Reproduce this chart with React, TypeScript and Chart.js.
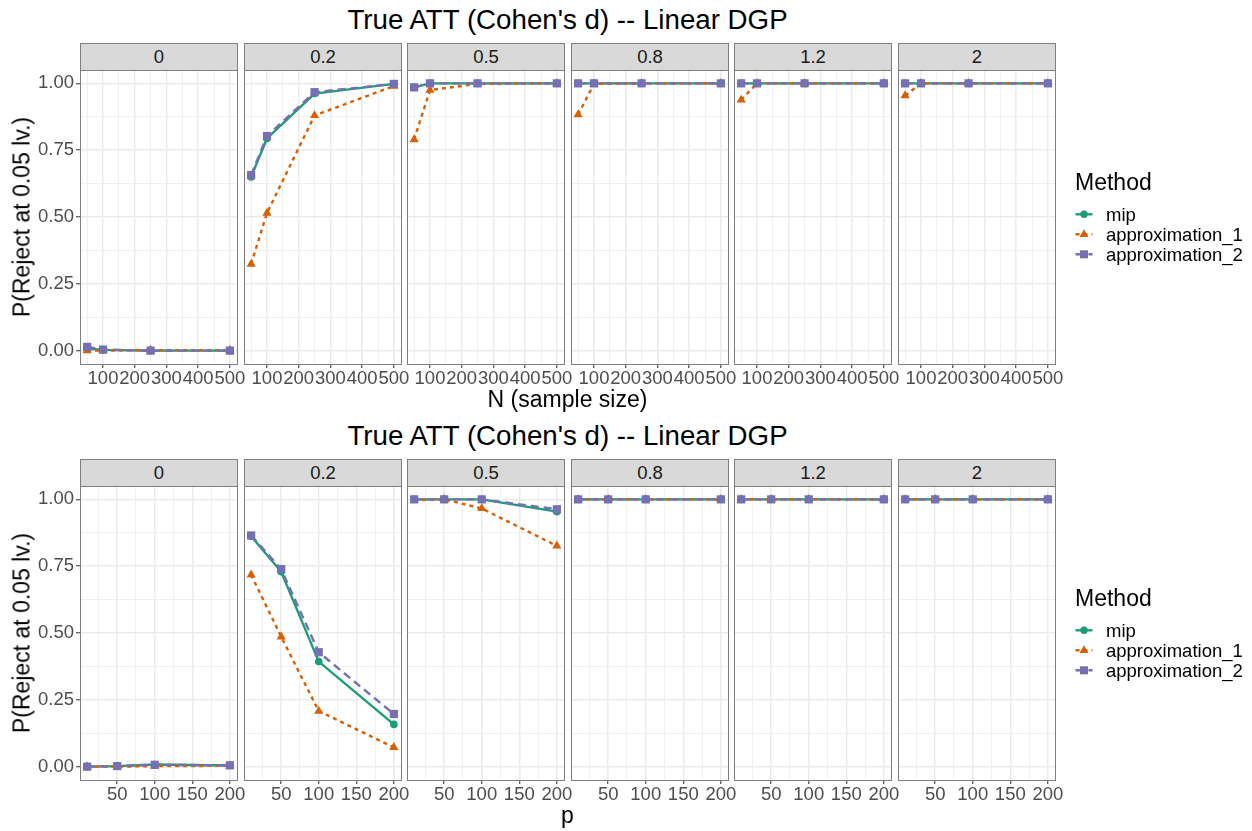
import React, { useEffect, useRef } from 'react';
import { Chart, registerables } from 'chart.js';
Chart.register(...registerables);

const FONT = '"Liberation Sans", Arial, Helvetica, sans-serif';

const facetLabels = ['0', '0.2', '0.5', '0.8', '1.2', '2'];
const methodNames = ['mip', 'approximation_1', 'approximation_2'];
const methodColors = ['#1B9E77', '#D95F02', '#7570B3'];
const chartTitle = "True ATT (Cohen's d) -- Linear DGP";
const yTitle = 'P(Reject at 0.05 lv.)';
const nTitle = 'N (sample size)';
const pTitle = 'p';

const sampleSizes = [50, 100, 250, 500];
const nGridTicks = [50, 100, 150, 200, 250, 300, 350, 400, 450, 500];
const nLabelTicks = [100, 200, 300, 400, 500];

const pValues = [10, 50, 100, 200];
const pGridTicks = [25, 50, 75, 100, 125, 150, 175, 200];
const pLabelTicks = [50, 100, 150, 200];

const yGridTicks = [0, 0.125, 0.25, 0.375, 0.5, 0.625, 0.75, 0.875, 1];
const yLabelTicks = [0, 0.25, 0.5, 0.75, 1];

// Top row (x = N): one inner list per facet, values at sampleSizes
const nMip = [
  [0.008, 0.003, 0, 0],
  [0.65, 0.794, 0.962, 0.998],
  [0.985, 1, 1, 1],
  [1, 1, 1, 1],
  [1, 1, 1, 1],
  [1, 1, 1, 1],
];
const nApprox1 = [
  [0, 0, 0.002, 0.002],
  [0.324, 0.515, 0.88, 0.99],
  [0.79, 0.975, 0.998, 1],
  [0.883, 0.998, 1, 1],
  [0.938, 1, 1, 1],
  [0.954, 1, 1, 1],
];
const nApprox2 = [
  [0.014, 0.004, 0, 0],
  [0.657, 0.803, 0.967, 0.998],
  [0.985, 1, 1, 1],
  [1, 1, 1, 1],
  [1, 1, 1, 1],
  [1, 1, 1, 1],
];

// Bottom row (x = p): one inner list per facet, values at pValues
const pMip = [
  [0, 0.002, 0.008, 0.004],
  [0.862, 0.729, 0.393, 0.158],
  [1, 1, 1, 0.954],
  [1, 1, 1, 1],
  [1, 1, 1, 1],
  [1, 1, 1, 1],
];
const pApprox1 = [
  [0, 0, 0.002, 0.003],
  [0.718, 0.486, 0.208, 0.072],
  [0.997, 1, 0.966, 0.826],
  [1, 1, 1, 1],
  [1, 1, 1, 1],
  [1, 1, 1, 1],
];
const pApprox2 = [
  [0, 0.002, 0.007, 0.005],
  [0.865, 0.739, 0.428, 0.197],
  [1, 1, 1, 0.963],
  [1, 1, 1, 1],
  [1, 1, 1, 1],
  [1, 1, 1, 1],
];

// layout
const colLefts = [80, 244, 407, 571, 734, 898];
const PW = 157;
const PH = 294;
const rowTops = [70, 486];
const YW = 60;
const PT = 16;
const PR = 26;
const XH = 32;
const CW = YW + PW + PR;
const CH = PT + PH + XH;

const TEXT_SIZE = 18.5;
const AXIS_TITLE_SIZE = 23;
const TITLE_SIZE = 27.7;

const lineDashes = [[], [4, 4], [8, 5]];
const pointStyles = ['circle', 'triangle', 'rect'];
const pointRadii = [3.8, 5.3, 5.8];
const LINE_W = 2.4;
const BORDER = '#7F7F7F';

const borderPlugin = {
  id: 'panelBorder',
  afterDraw(chart: any) {
    const { ctx, chartArea: a } = chart;
    ctx.save();
    ctx.strokeStyle = BORDER;
    ctx.lineWidth = 1;
    ctx.strokeRect(a.left + 0.5, a.top + 0.5, a.right - a.left, a.bottom - a.top);
    ctx.restore();
  },
};

type PanelProps = {
  left: number;
  top: number;
  xVals: number[];
  xMin: number;
  xMax: number;
  xGrid: number[];
  xLabels: number[];
  series: number[][];
  showY: boolean;
};

function Panel({ left, top, xVals, xMin, xMax, xGrid, xLabels, series, showY }: PanelProps) {
  const ref = useRef<HTMLCanvasElement>(null);
  useEffect(() => {
    if (!ref.current) return;
    const lineSets = series.map((vals, i) => ({
      label: methodNames[i],
      data: xVals.map((x, j) => ({ x, y: vals[j] })),
      borderColor: methodColors[i],
      backgroundColor: methodColors[i],
      borderWidth: LINE_W,
      borderDash: lineDashes[i],
      pointRadius: 0,
      fill: false,
      tension: 0,
      order: 6 - i,
    }));
    const pointSets = series.map((vals, i) => ({
      label: methodNames[i] + ' points',
      data: xVals.map((x, j) => ({ x, y: vals[j] })),
      showLine: false,
      pointStyle: pointStyles[i],
      pointRadius: pointRadii[i],
      pointBackgroundColor: methodColors[i],
      pointBorderColor: methodColors[i],
      pointBorderWidth: 0,
      borderColor: methodColors[i],
      backgroundColor: methodColors[i],
      order: 3 - i,
    }));
    const chart = new Chart(ref.current, {
      type: 'line',
      data: { datasets: [...lineSets, ...pointSets] as any },
      options: {
        animation: false,
        responsive: false,
        maintainAspectRatio: false,
        devicePixelRatio: 1,
        layout: { padding: { top: PT, right: PR, left: 0, bottom: 0 } },
        plugins: { legend: { display: false }, tooltip: { enabled: false } },
        scales: {
          x: {
            type: 'linear',
            min: xMin,
            max: xMax,
            afterBuildTicks: (s: any) => {
              s.ticks = xGrid.map((v) => ({ value: v }));
            },
            afterFit: (s: any) => {
              s.height = XH;
            },
            ticks: {
              autoSkip: false,
              maxRotation: 0,
              minRotation: 0,
              padding: 0,
              color: '#4D4D4D',
              font: { size: TEXT_SIZE, family: FONT },
              callback: (v: any) => (xLabels.includes(Number(v)) ? String(v) : ''),
            },
            grid: {
              color: '#EBEBEB',
              lineWidth: (c: any) => (c.tick && xLabels.includes(c.tick.value) ? 1.5 : 0.75),
              tickLength: 4,
              tickWidth: 1,
              tickColor: (c: any) => (c.tick && xLabels.includes(c.tick.value) ? '#333333' : 'rgba(0,0,0,0)'),
              drawTicks: true,
            },
            border: { display: false },
          },
          y: {
            type: 'linear',
            min: -0.05,
            max: 1.05,
            afterBuildTicks: (s: any) => {
              s.ticks = yGridTicks.map((v) => ({ value: v }));
            },
            afterFit: (s: any) => {
              s.width = YW;
            },
            ticks: {
              display: showY,
              autoSkip: false,
              padding: 2,
              color: '#4D4D4D',
              font: { size: TEXT_SIZE, family: FONT },
              callback: (v: any) => (yLabelTicks.includes(Number(v)) ? Number(v).toFixed(2) : ''),
            },
            grid: {
              color: '#EBEBEB',
              lineWidth: (c: any) => (c.tick && yLabelTicks.includes(c.tick.value) ? 1.5 : 0.75),
              tickLength: 4,
              tickWidth: 1,
              tickColor: (c: any) => (c.tick && yLabelTicks.includes(c.tick.value) ? '#333333' : 'rgba(0,0,0,0)'),
              drawTicks: showY,
            },
            border: { display: false },
          },
        },
      } as any,
      plugins: [borderPlugin],
    });
    return () => chart.destroy();
  }, []);
  return (
    <canvas
      ref={ref}
      width={CW}
      height={CH}
      style={{ position: 'absolute', left: left - YW, top: top - PT, width: CW, height: CH }}
    />
  );
}

function Strip({ left, top, label }: { left: number; top: number; label: string }) {
  return (
    <div
      style={{
        position: 'absolute',
        left,
        top: top - 27,
        width: PW + 1,
        height: 28,
        boxSizing: 'border-box',
        border: `1px solid ${BORDER}`,
        background: '#D9D9D9',
        color: '#1A1A1A',
        fontSize: TEXT_SIZE,
        lineHeight: '26px',
        textAlign: 'center',
        fontFamily: FONT,
      }}
    >
      {label}
    </div>
  );
}

function LegendKey({ i }: { i: number }) {
  const c = methodColors[i];
  const dash = lineDashes[i].length ? lineDashes[i].join(' ') : undefined;
  return (
    <svg width={18} height={20} style={{ position: 'absolute', left: 0, top: 0 }}>
      <line x1={0.5} x2={17.5} y1={9.3} y2={9.3} stroke={c} strokeWidth={LINE_W} strokeDasharray={dash} />
      {i === 0 && <circle cx={9} cy={9.3} r={3.7} fill={c} />}
      {i === 1 && <polygon points="9,4.3 13.5,12 4.5,12" fill={c} />}
      {i === 2 && <rect x={5} y={5.3} width={8} height={8} fill={c} />}
    </svg>
  );
}

function Legend({ top }: { top: number }) {
  return (
    <div style={{ position: 'absolute', left: 1075, top, fontFamily: FONT }}>
      <div
        style={{
          position: 'absolute',
          left: 0,
          top: 0,
          fontSize: AXIS_TITLE_SIZE,
          lineHeight: `${AXIS_TITLE_SIZE}px`,
          color: '#000',
          whiteSpace: 'nowrap',
        }}
      >
        Method
      </div>
      {methodNames.map((m, i) => (
        <div key={m} style={{ position: 'absolute', left: 0, top: 34 + i * 20, height: 20, width: 175 }}>
          <LegendKey i={i} />
          <div
            style={{
              position: 'absolute',
              left: 31,
              top: 0,
              fontSize: TEXT_SIZE,
              lineHeight: '20px',
              color: '#000',
              whiteSpace: 'nowrap',
            }}
          >
            {m}
          </div>
        </div>
      ))}
    </div>
  );
}

function Row({ r }: { r: number }) {
  const top = rowTops[r];
  const isN = r === 0;
  return (
    <>
      {facetLabels.map((f, k) => (
        <React.Fragment key={f}>
          <Panel
            left={colLefts[k]}
            top={top}
            xVals={isN ? sampleSizes : pValues}
            xMin={isN ? 27.5 : 0.5}
            xMax={isN ? 522.5 : 209.5}
            xGrid={isN ? nGridTicks : pGridTicks}
            xLabels={isN ? nLabelTicks : pLabelTicks}
            series={isN ? [nMip[k], nApprox1[k], nApprox2[k]] : [pMip[k], pApprox1[k], pApprox2[k]]}
            showY={k === 0}
          />
          <Strip left={colLefts[k]} top={top} label={f} />
        </React.Fragment>
      ))}
    </>
  );
}

export default function App() {
  const centerX = (colLefts[0] + colLefts[5] + PW) / 2;
  const textStyle = (size: number): React.CSSProperties => ({
    position: 'absolute',
    fontFamily: FONT,
    fontSize: size,
    lineHeight: `${size}px`,
    whiteSpace: 'nowrap',
    color: '#000',
  });
  return (
    <div style={{ position: 'absolute', left: 0, top: 0, width: 1252, height: 831, background: '#fff', overflow: 'hidden' }}>
      {[0, 1].map((r) => (
        <React.Fragment key={r}>
          <div style={{ ...textStyle(TITLE_SIZE), left: centerX, top: r === 0 ? 6.0 : 421.6, transform: 'translateX(-50%)' }}>
            {chartTitle}
          </div>
          <Row r={r} />
          <div style={{ ...textStyle(AXIS_TITLE_SIZE), left: centerX, top: r === 0 ? 388.2 : 803.8, transform: 'translateX(-50%)' }}>
            {r === 0 ? nTitle : pTitle}
          </div>
          <div
            style={{
              ...textStyle(AXIS_TITLE_SIZE),
              left: 21.5,
              top: rowTops[r] + PH / 2,
              transform: 'translate(-50%, -50%) rotate(-90deg)',
            }}
          >
            {yTitle}
          </div>
          <Legend top={r === 0 ? 170.8 : 587.1} />
        </React.Fragment>
      ))}
    </div>
  );
}
